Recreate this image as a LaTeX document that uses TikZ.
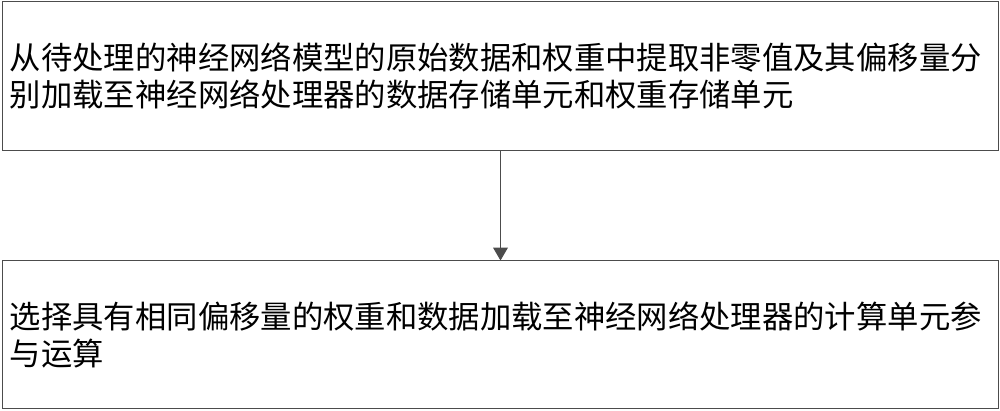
\documentclass[tikz,border=0pt]{standalone}
\usepackage{fontspec}
\newfontfamily\cjk{Noto Sans CJK SC}
\usetikzlibrary{arrows.meta, positioning}

\begin{document}
\begin{tikzpicture}[
        x=0.02646cm, y=-0.02646cm,
        stepbox/.style={rectangle, draw=black!70, line width=0.75pt,
                        minimum width=26.33cm, inner xsep=0.185cm,
                        text width=25.96cm, align=left,
                        font=\cjk\fontsize{23.6pt}{27.8pt}\selectfont},
        >={Triangle[length=3.4mm, width=3.9mm]}
    ]
        \useasboundingbox (0,0) rectangle (1000,411);

        \node[stepbox, minimum height=3.916cm] (top) at (500.5, 76)
            {从待处理的神经网络模型的原始数据和权重中提取非零值及其偏移量分\\
             别加载至神经网络处理器的数据存储单元和权重存储单元};
        \node[stepbox, minimum height=3.89cm] (bot) at (500.5, 334.5)
            {选择具有相同偏移量的权重和数据加载至神经网络处理器的计算单元参\\
             与运算};

        \draw[->, line width=0.75pt, black!70] (top) -- (bot);
    \end{tikzpicture}
\end{document}
